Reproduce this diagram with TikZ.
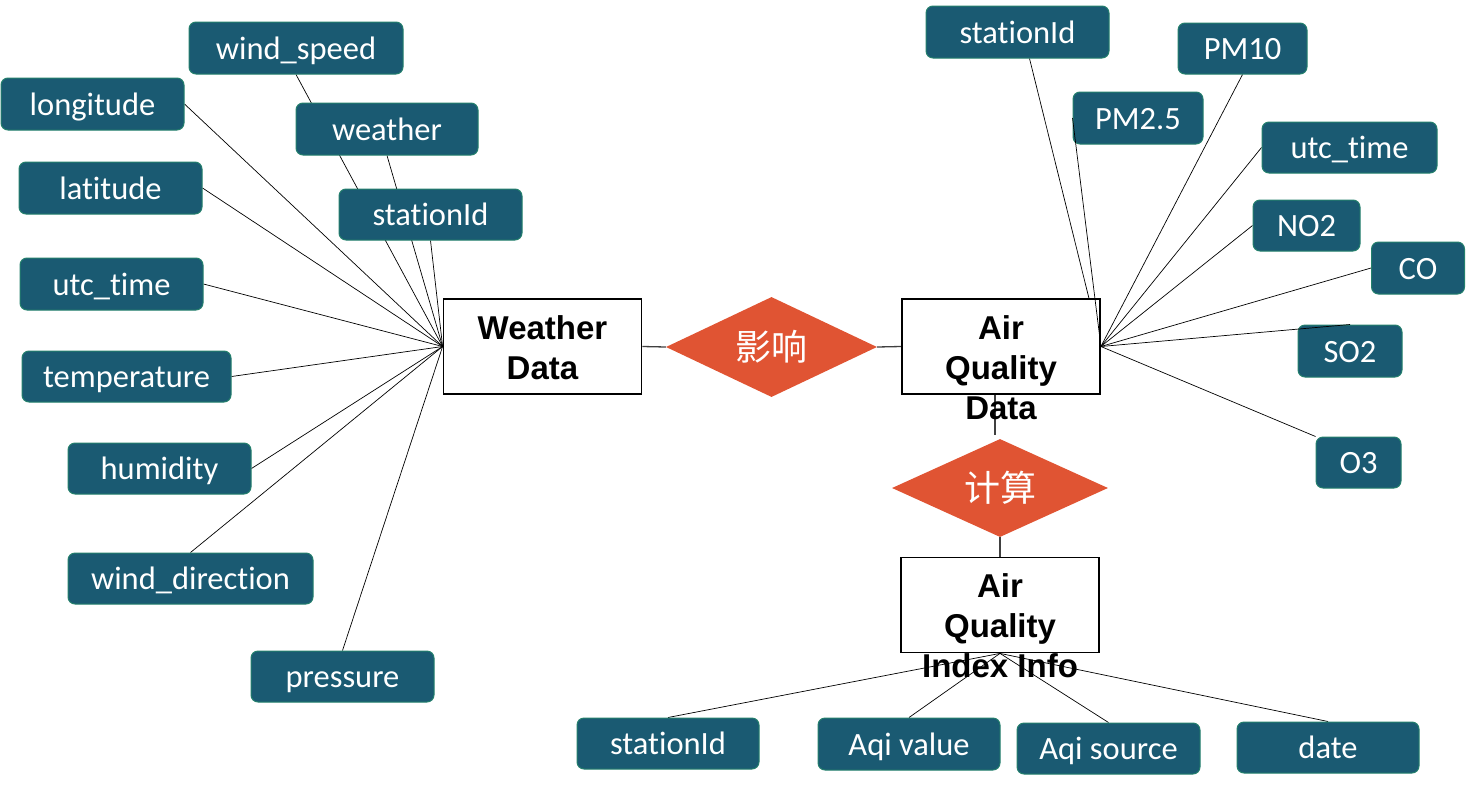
\documentclass[tikz,border=0pt]{standalone}
\usepackage{fontspec}
\setmainfont{Liberation Sans}
\newfontfamily\attrfont[Ligatures={NoCommon}]{Carlito}
\newfontfamily\cjkfont{Noto Sans CJK SC}
\usetikzlibrary{shapes.geometric,backgrounds}
\definecolor{attrfill}{HTML}{1A5A72}
\definecolor{attredge}{HTML}{24806C}
\definecolor{relfill}{HTML}{E05433}
\tikzset{
  attr/.style={draw=attredge, line width=1pt, fill=attrfill, rounded corners=7pt,
    text=white, font=\attrfont\fontsize{32.5}{36}\selectfont, inner sep=0pt,
    text height=22pt, text depth=0pt},
  entity/.style={draw=black, line width=1.8pt, fill=white, minimum width=#1, minimum height=95, inner sep=0pt},
  entity/.default=198,
  enttext/.style={font=\bfseries\fontsize{33}{40}\selectfont, align=center, anchor=north, inner sep=0pt},
  rel/.style={diamond, fill=relfill, text=white, font=\cjkfont\fontsize{36}{40}\selectfont, inner sep=0pt, aspect=2.1},
  conn/.style={draw=black, line width=0.7pt},
  relline/.style={draw=black!75, line width=1.3pt}
}
\begin{document}
\begin{tikzpicture}[x=1pt,y=-1pt]
\useasboundingbox (0,0) rectangle (1466,787);
% entities
\node[entity, label={[enttext, yshift=-17]north:Weather\\Data}] (wd) at (542.5,346.5) {};
\node[entity, label={[enttext, yshift=-17]north:Air\\Quality\\Data}] (aqd) at (1001,346.5) {};
\node[entity, label={[enttext, yshift=-17]north:Air\\Quality\\Index Info}] (aqi) at (1000,605) {};
% relationships
\node[rel, minimum width=211, minimum height=100] (r1) at (771.5,347) {影响};
\node[rel, minimum width=216, minimum height=98] (r2) at (1000,488) {计算};
% weather attributes
\node[attr, minimum width=214, minimum height=52] (ws) at (296,48) {wind\_speed};
\node[attr, minimum width=183, minimum height=52] (lon) at (92.5,104) {longitude};
\node[attr, minimum width=182, minimum height=52] (wea) at (387,129) {weather};
\node[attr, minimum width=183, minimum height=52] (lat) at (110.5,188) {latitude};
\node[attr, minimum width=183, minimum height=51] (wsid) at (430.5,214.5) {stationId};
\node[attr, minimum width=183, minimum height=52] (wutc) at (111.5,284) {utc\_time};
\node[attr, minimum width=209, minimum height=51] (tmp) at (126.5,376.5) {temperature};
\node[attr, minimum width=183, minimum height=51] (hum) at (159.5,468.5) {humidity};
\node[attr, minimum width=245, minimum height=51] (wdir) at (190.5,578.5) {wind\_direction};
\node[attr, minimum width=183, minimum height=51] (pre) at (342.5,676.5) {pressure};
% air quality attributes
\node[attr, minimum width=183, minimum height=52] (asid) at (1017.5,32) {stationId};
\node[attr, minimum width=129, minimum height=51] (pm10) at (1242.5,48.5) {PM10};
\node[attr, minimum width=130, minimum height=52] (pm25) at (1138,118) {PM2.5};
\node[attr, minimum width=175, minimum height=51] (autc) at (1349.5,147.5) {utc\_time};
\node[attr, minimum width=107, minimum height=51] (no2) at (1306.5,225.5) {NO2};
\node[attr, minimum width=93, minimum height=52] (co) at (1418,268) {CO};
\node[attr, minimum width=104, minimum height=52] (so2) at (1350,351) {SO2};
\node[attr, minimum width=85, minimum height=51] (o3) at (1358.5,462.5) {O3};
% aqi attributes
\node[attr, minimum width=182, minimum height=51] (qsid) at (668,743.5) {stationId};
\node[attr, minimum width=182, minimum height=52] (qval) at (909,744) {Aqi value};
\node[attr, minimum width=183, minimum height=51] (qsrc) at (1108.5,748.5) {Aqi source};
\node[attr, minimum width=182, minimum height=51] (qdate) at (1328,747.5) {date};
\begin{scope}[on background layer]
  % weather data connectors
  \foreach \a in {ws.south, wea.south, wsid.south, lon.east, lat.east, wutc.east, tmp.east, hum.east, wdir.north, pre.north}
    \draw[conn] (\a) -- (wd.west);
  % air quality data connectors
  \draw[conn] ([xshift=12]asid.south) -- (aqd.east);
  \foreach \a in {pm10.south, autc.west, no2.west, co.west}
    \draw[conn] (\a) -- (aqd.east);
  % aqi connectors
  \foreach \a in {qsid.north, qval.north, qsrc.north, qdate.north}
    \draw[conn] (\a) -- (aqi.south);
  % relationship lines
  \draw[relline] (wd.east) -- (r1.west);
  \draw[relline] (r1.east) -- (aqd.west);
  \draw[relline] ([xshift=-6]aqd.south) -- ([xshift=-6,yshift=4]aqd.south |- r2.north);
  \draw[relline] (r2.south) -- (aqi.north);
\end{scope}
\draw[conn] (pm25.west) -- (aqd.east);
\draw[conn] (so2.north) -- (aqd.east);
\draw[conn] (o3.north west) -- (aqd.east);
\end{tikzpicture}
\end{document}
